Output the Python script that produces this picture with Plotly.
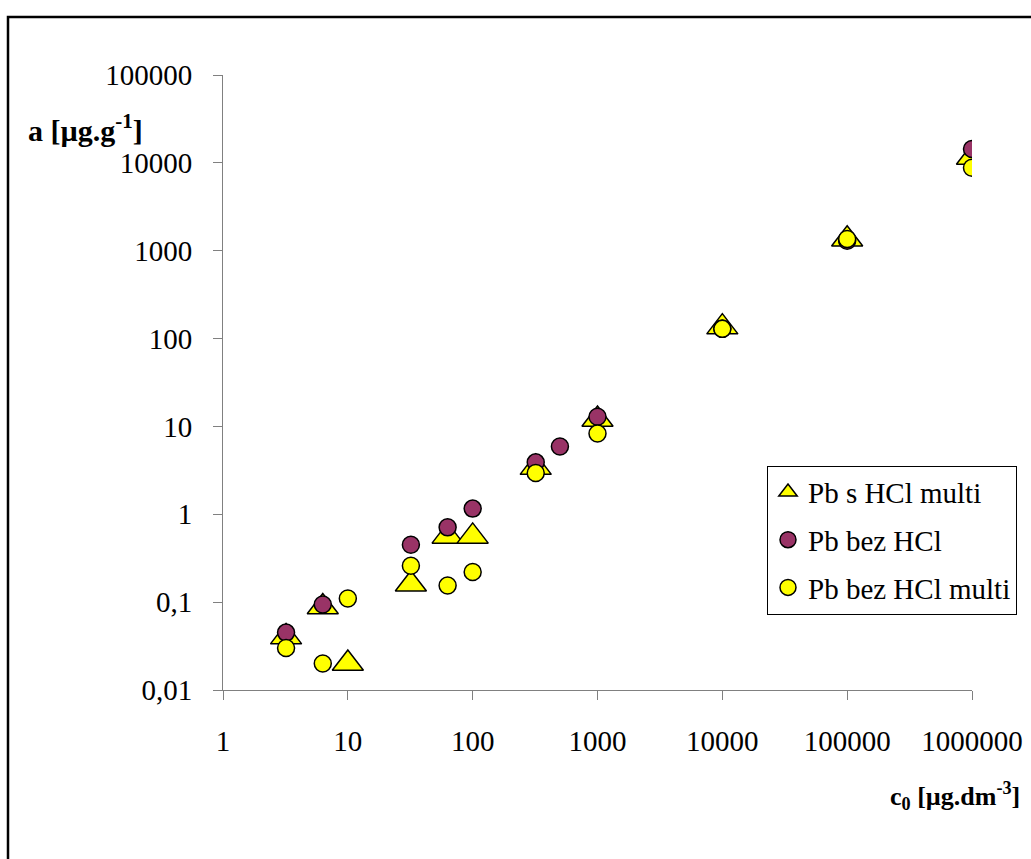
import plotly.graph_objects as go

# ---- data ----
x_tri = [3.2, 6.3, 10, 32, 63, 100, 320, 1000, 10000, 100000, 1000000]
y_tri = [0.04, 0.088, 0.02, 0.16, 0.56, 0.56, 3.4, 12, 135, 1350, 11500]

x_pur = [3.2, 6.3, 32, 63, 100, 320, 500, 1000, 10000, 100000, 1000000]
y_pur = [0.045, 0.094, 0.45, 0.71, 1.16, 3.9, 5.9, 12.9, 130, 1300, 14400]

x_yel = [3.2, 6.3, 10, 32, 63, 100, 320, 1000, 10000, 100000, 1000000]
y_yel = [0.03, 0.02, 0.11, 0.26, 0.155, 0.22, 2.95, 8.3, 129, 1360, 8800]

names = ["Pb s HCl multi", "Pb bez HCl", "Pb bez HCl multi"]

x_tickvals = [1, 10, 100, 1000, 10000, 100000, 1000000]
x_ticktext = ["1", "10", "100", "1000", "10000", "100000", "1000000"]
y_tickvals = [0.01, 0.1, 1, 10, 100, 1000, 10000, 100000]
y_ticktext = ["0,01", "0,1", "1", "10", "100", "1000", "10000", "100000"]

FONT = "Liberation Serif, Times New Roman, serif"

fig = go.Figure()
fig.add_trace(go.Scatter(
    x=x_tri, y=y_tri, mode="markers", name=names[0], legendgroup="a",
    marker=dict(symbol="triangle-up", size=27, color="#FFFF00",
                line=dict(color="black", width=1.5))))
fig.add_trace(go.Scatter(
    x=x_pur, y=y_pur, mode="markers", name=names[1], legendgroup="b",
    marker=dict(symbol="circle", size=17, color="#993366",
                line=dict(color="black", width=1.5))))
fig.add_trace(go.Scatter(
    x=x_yel, y=y_yel, mode="markers", name=names[2], legendgroup="c",
    marker=dict(symbol="circle", size=17, color="#FFFF00",
                line=dict(color="black", width=1.5))))

L, R, T, B = 223, 972, 75, 690.5
W, H = 1031, 859

fig.update_layout(
    width=W, height=H,
    margin=dict(l=L, r=W - R, t=T, b=H - B, autoexpand=False),
    paper_bgcolor="white", plot_bgcolor="white",
    font=dict(family=FONT, size=29, color="black"),
    showlegend=True,
    legend=dict(x=(767 - L) / (R - L), y=(B - 466) / (B - T),
                xanchor="left", yanchor="top",
                bgcolor="white", bordercolor="black", borderwidth=1,
                font=dict(family=FONT, size=29, color="black"),
                tracegroupgap=7, traceorder="grouped",
                itemsizing="trace"),
    xaxis=dict(type="log", range=[0, 6], tickvals=x_tickvals, ticktext=x_ticktext,
               showgrid=False, zeroline=False, showline=True, linecolor="#808080",
               linewidth=1, ticks="outside", ticklen=9, tickcolor="#808080",
               ticklabelstandoff=16, tickfont=dict(family=FONT, size=29)),
    yaxis=dict(type="log", range=[-2, 5], tickvals=y_tickvals, ticktext=y_ticktext,
               showgrid=False, zeroline=False, showline=True, linecolor="#808080",
               linewidth=1, ticks="outside", ticklen=9, tickcolor="#808080",
               ticklabelstandoff=15, tickfont=dict(family=FONT, size=29)),
    annotations=[
        dict(text="<b>a [µg.g<sup>-1</sup>]</b>", xref="paper", yref="paper",
             x=(85 - L) / (R - L), y=(B - 128) / (B - T), xanchor="center",
             yanchor="middle", showarrow=False, font=dict(family=FONT, size=30)),
        dict(text="<b>c<sub>0</sub> [µg.dm<sup>-3</sup>]</b>", xref="paper", yref="paper",
             x=(1022 - L) / (R - L), y=(B - 797) / (B - T), xanchor="right",
             yanchor="middle", showarrow=False, font=dict(family=FONT, size=26)),
    ],
    shapes=[
        dict(type="rect", xref="paper", yref="paper",
             x0=(8 - L) / (R - L), x1=(1040 - L) / (R - L),
             y0=(B - 870) / (B - T), y1=(B - 17) / (B - T),
             line=dict(color="black", width=2.5), fillcolor="rgba(0,0,0,0)",
             layer="below"),
    ],
)

fig.write_html("out.html")
